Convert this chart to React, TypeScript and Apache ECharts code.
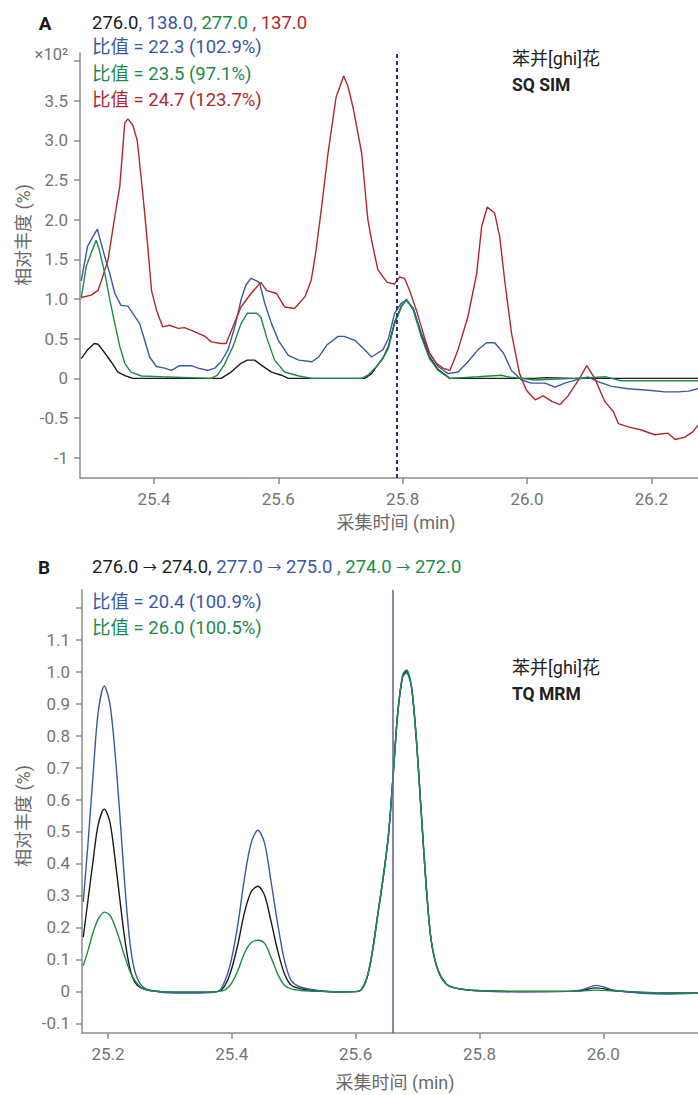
import React, { useEffect, useRef } from "react";
import * as echarts from "echarts";

const FONT = "Roboto, 'Noto Sans CJK SC', sans-serif";
const C_BLACK = "#1b1b1b";
const C_BLUE = "#3b57a7";
const C_GREEN = "#1d8a48";
const C_RED = "#b0272d";
const AX = "#8c8c8c";
const TICK = "#747474";

// ---------- Panel A (SQ SIM) ----------
const A_X_TICKS = [25.4, 25.6, 25.8, 26.0, 26.2];
const A_Y_TICKS = [-1, -0.5, 0, 0.5, 1.0, 1.5, 2.0, 2.5, 3.0, 3.5, 4.0];
const A_Y_LABELS = [-1, -0.5, 0, 0.5, 1.0, 1.5, 2.0, 2.5, 3.0, 3.5];
const A_MARK = 25.786;

const A_BLACK_T = [25.283, 25.293, 25.304, 25.31, 25.321, 25.331, 25.342, 25.355, 25.366, 25.508, 25.524, 25.54, 25.55, 25.562, 25.572, 25.589, 25.605, 25.616, 25.739, 25.75, 25.76, 25.768, 25.777, 25.787, 25.798, 25.806, 25.817, 25.83, 25.843, 25.857, 25.876, 26.013, 26.03, 26.077, 26.275];
const A_BLACK_V = [0.25, 0.36, 0.44, 0.43, 0.32, 0.21, 0.08, 0.03, 0.0, 0.0, 0.08, 0.19, 0.23, 0.23, 0.17, 0.08, 0.04, 0.0, 0.0, 0.06, 0.17, 0.25, 0.4, 0.71, 0.91, 0.99, 0.88, 0.55, 0.27, 0.11, 0.0, 0.0, 0.01, 0.0, 0.0];

const A_GREEN_T = [25.283, 25.291, 25.299, 25.307, 25.312, 25.321, 25.329, 25.337, 25.345, 25.353, 25.363, 25.38, 25.412, 25.492, 25.502, 25.513, 25.527, 25.54, 25.55, 25.565, 25.572, 25.581, 25.594, 25.61, 25.633, 25.654, 25.734, 25.744, 25.758, 25.768, 25.777, 25.787, 25.798, 25.806, 25.817, 25.83, 25.843, 25.857, 25.876, 25.921, 25.959, 25.969, 26.013, 26.077, 26.127, 26.151, 26.275];
const A_GREEN_V = [1.01, 1.41, 1.58, 1.74, 1.62, 1.32, 0.99, 0.69, 0.4, 0.19, 0.08, 0.03, 0.02, 0.0, 0.04, 0.17, 0.4, 0.69, 0.82, 0.82, 0.77, 0.52, 0.23, 0.08, 0.03, 0.0, 0.0, 0.04, 0.15, 0.25, 0.38, 0.69, 0.9, 1.0, 0.86, 0.52, 0.25, 0.1, 0.0, 0.02, 0.04, 0.02, -0.02, 0.0, 0.02, -0.03, -0.03];

const A_BLUE_T = [25.283, 25.293, 25.302, 25.309, 25.312, 25.321, 25.329, 25.337, 25.347, 25.358, 25.366, 25.377, 25.385, 25.393, 25.404, 25.417, 25.428, 25.441, 25.46, 25.471, 25.487, 25.498, 25.508, 25.519, 25.53, 25.54, 25.548, 25.556, 25.565, 25.57, 25.578, 25.589, 25.6, 25.616, 25.633, 25.654, 25.665, 25.678, 25.696, 25.706, 25.723, 25.739, 25.75, 25.76, 25.768, 25.777, 25.787, 25.798, 25.806, 25.817, 25.83, 25.843, 25.857, 25.873, 25.889, 25.905, 25.921, 25.935, 25.948, 25.962, 25.975, 25.991, 26.007, 26.029, 26.045, 26.061, 26.083, 26.098, 26.114, 26.136, 26.163, 26.195, 26.222, 26.243, 26.26, 26.275];
const A_BLUE_V = [1.23, 1.66, 1.79, 1.88, 1.79, 1.53, 1.32, 1.07, 0.92, 0.91, 0.82, 0.69, 0.48, 0.27, 0.15, 0.13, 0.1, 0.16, 0.16, 0.13, 0.1, 0.13, 0.21, 0.36, 0.65, 0.99, 1.18, 1.26, 1.23, 1.2, 0.95, 0.69, 0.48, 0.29, 0.23, 0.21, 0.27, 0.42, 0.53, 0.53, 0.48, 0.36, 0.27, 0.32, 0.36, 0.5, 0.82, 0.95, 0.98, 0.88, 0.57, 0.32, 0.15, 0.06, 0.08, 0.21, 0.36, 0.45, 0.45, 0.32, 0.1, -0.02, -0.06, -0.06, -0.11, -0.06, -0.01, 0.02, -0.04, -0.1, -0.13, -0.15, -0.17, -0.17, -0.16, -0.13];

const A_RED_T = [25.283, 25.299, 25.31, 25.315, 25.326, 25.337, 25.345, 25.353, 25.358, 25.366, 25.373, 25.382, 25.39, 25.396, 25.404, 25.414, 25.425, 25.439, 25.449, 25.465, 25.482, 25.492, 25.508, 25.516, 25.527, 25.54, 25.556, 25.572, 25.581, 25.597, 25.61, 25.626, 25.643, 25.653, 25.66, 25.669, 25.68, 25.693, 25.701, 25.705, 25.712, 25.72, 25.734, 25.744, 25.75, 25.76, 25.775, 25.787, 25.795, 25.803, 25.811, 25.822, 25.833, 25.843, 25.854, 25.865, 25.876, 25.889, 25.905, 25.919, 25.927, 25.936, 25.948, 25.956, 25.964, 25.975, 25.988, 25.999, 26.013, 26.026, 26.04, 26.053, 26.066, 26.083, 26.096, 26.109, 26.125, 26.139, 26.147, 26.163, 26.184, 26.205, 26.227, 26.238, 26.254, 26.267, 26.275];
const A_RED_V = [1.02, 1.05, 1.11, 1.22, 1.49, 2.04, 2.42, 3.22, 3.27, 3.19, 3.0, 2.33, 1.66, 1.11, 0.86, 0.65, 0.67, 0.63, 0.64, 0.59, 0.53, 0.46, 0.44, 0.44, 0.65, 0.9, 1.07, 1.21, 1.11, 1.07, 0.9, 0.88, 1.03, 1.24, 1.58, 2.12, 2.84, 3.55, 3.72, 3.81, 3.68, 3.42, 2.84, 2.0, 1.74, 1.37, 1.21, 1.19, 1.28, 1.26, 1.11, 0.86, 0.57, 0.32, 0.19, 0.13, 0.1, 0.36, 0.78, 1.32, 1.91, 2.16, 2.08, 1.79, 1.24, 0.57, 0.06, -0.15, -0.27, -0.22, -0.29, -0.33, -0.22, -0.02, 0.16, 0.0, -0.29, -0.42, -0.57, -0.61, -0.65, -0.71, -0.69, -0.77, -0.74, -0.67, -0.59];

// ---------- Panel B (TQ MRM) ----------
const B_X_TICKS = [25.2, 25.4, 25.6, 25.8, 26.0];
const B_Y_TICKS = [-0.1, 0, 0.1, 0.2, 0.3, 0.4, 0.5, 0.6, 0.7, 0.8, 0.9, 1.0, 1.1, 1.2];
const B_Y_LABELS = [-0.1, 0, 0.1, 0.2, 0.3, 0.4, 0.5, 0.6, 0.7, 0.8, 0.9, 1.0, 1.1];
const B_MARK = 25.66;

const B_T = [25.16, 25.168, 25.176, 25.184, 25.194, 25.203, 25.211, 25.219, 25.227, 25.235, 25.243, 25.254, 25.27, 25.308, 25.345, 25.378, 25.389, 25.399, 25.41, 25.42, 25.431, 25.442, 25.453, 25.463, 25.474, 25.485, 25.496, 25.512, 25.539, 25.571, 25.604, 25.62, 25.636, 25.652, 25.66, 25.668, 25.676, 25.682, 25.69, 25.698, 25.706, 25.714, 25.722, 25.733, 25.746, 25.76, 25.792, 25.868, 25.943, 25.965, 25.989, 26.019, 26.099, 26.153];
const B_BLUE = [0.28, 0.47, 0.68, 0.87, 0.955, 0.9, 0.755, 0.556, 0.337, 0.16, 0.066, 0.019, 0.003, -0.005, -0.005, 0.0, 0.034, 0.097, 0.212, 0.348, 0.463, 0.504, 0.463, 0.348, 0.212, 0.097, 0.034, 0.013, 0.003, -0.002, 0.0, 0.055, 0.243, 0.47, 0.661, 0.87, 0.984, 0.995, 0.953, 0.786, 0.556, 0.327, 0.16, 0.066, 0.024, 0.011, 0.003, -0.002, 0.0, 0.005, 0.019, 0.003, -0.008, -0.005];
const B_BLACK = [0.17, 0.29, 0.41, 0.52, 0.57, 0.53, 0.42, 0.29, 0.165, 0.075, 0.03, 0.01, 0.002, -0.003, -0.003, 0.0, 0.019, 0.066, 0.149, 0.243, 0.311, 0.329, 0.3, 0.222, 0.128, 0.055, 0.019, 0.008, 0.002, -0.001, 0.0, 0.055, 0.243, 0.47, 0.66, 0.87, 0.985, 1.0, 0.955, 0.79, 0.56, 0.33, 0.16, 0.066, 0.024, 0.011, 0.003, 0.0, 0.0, 0.003, 0.011, 0.002, -0.005, -0.004];
const B_GREEN = [0.08, 0.13, 0.185, 0.225, 0.248, 0.238, 0.205, 0.16, 0.11, 0.065, 0.035, 0.012, 0.002, -0.002, -0.002, 0.0, 0.005, 0.024, 0.066, 0.118, 0.152, 0.16, 0.15, 0.108, 0.055, 0.019, 0.008, 0.003, 0.0, -0.001, 0.0, 0.055, 0.243, 0.47, 0.66, 0.87, 0.99, 1.005, 0.955, 0.79, 0.56, 0.33, 0.16, 0.066, 0.024, 0.011, 0.003, 0.0, 0.0, 0.001, 0.004, 0.001, -0.004, -0.004];

const pairs = (t: number[], v: number[]) => t.map((x, i) => [x, v[i]]);
const fmt = (v: number) => (v === 0 ? "0" : v === -1 ? "-1" : v.toFixed(1));

function xAxisCfg(grid: number, min: number, max: number, ticks: number[]) {
  return {
    type: "value",
    gridIndex: grid,
    min,
    max,
    axisLine: { show: true, onZero: false, lineStyle: { color: AX, width: 1.5 } },
    axisTick: { show: true, length: 6, customValues: ticks, lineStyle: { color: AX, width: 1.5 } },
    axisLabel: { customValues: ticks, formatter: (v: number) => v.toFixed(1), color: TICK, fontSize: 17, margin: 12, fontFamily: FONT },
    splitLine: { show: false },
  };
}
function yAxisCfg(grid: number, min: number, max: number, ticks: number[], labels: number[]) {
  return {
    type: "value",
    gridIndex: grid,
    min,
    max,
    axisLine: { show: true, onZero: false, lineStyle: { color: AX, width: 1.5 } },
    axisTick: { show: true, length: 6, customValues: ticks, lineStyle: { color: AX, width: 1.5 } },
    axisLabel: { customValues: labels, formatter: fmt, color: TICK, fontSize: 17, margin: 12, fontFamily: FONT },
    splitLine: { show: false },
  };
}
function line(name: string, grid: number, data: number[][], color: string, smooth: boolean | number, extra: any = {}) {
  return {
    name,
    type: "line",
    xAxisIndex: grid,
    yAxisIndex: grid,
    data,
    showSymbol: false,
    symbol: "none",
    smooth,
    lineStyle: { color, width: 1.4 },
    itemStyle: { color },
    silent: true,
    ...extra,
  };
}

const HS = 18.5; // header font size
function txt(text: string, x: number, y: number, fill: string, size = HS, weight: any = "normal", align = "left") {
  return {
    type: "text",
    x,
    y,
    style: { text, fill, fontSize: size, fontWeight: weight, fontFamily: FONT, align, verticalAlign: "middle" },
  };
}
function richTxt(text: string, x: number, y: number) {
  const s = (fill: string, size = HS) => ({ fill, fontSize: size, fontFamily: FONT });
  return {
    type: "text",
    x,
    y,
    style: {
      text,
      fontSize: HS,
      fontFamily: FONT,
      align: "left",
      verticalAlign: "middle",
      rich: {
        k: s(C_BLACK), b: s(C_BLUE), g: s(C_GREEN), r: s(C_RED),
        ka: s(C_BLACK, 14), ba: s(C_BLUE, 14), ga: s(C_GREEN, 14),
      },
    },
  };
}
function yName(y: number) {
  return {
    type: "text", x: 23, y, rotation: Math.PI / 2,
    style: { text: "相对丰度 (%)", fill: "#6a6a6a", fontSize: 18, fontFamily: FONT, align: "center", verticalAlign: "middle" },
  };
}

export default function App() {
  const ref = useRef<HTMLDivElement>(null);
  useEffect(() => {
    if (!ref.current) return;
    const chart = echarts.init(ref.current, null, { renderer: "svg" });
    const option: any = {
      animation: false,
      backgroundColor: "#ffffff",
      textStyle: { fontFamily: FONT },
      grid: [
        { left: 80, top: 53, width: 618, height: 425 },
        { left: 82, top: 590, width: 616, height: 443 },
      ],
      xAxis: [xAxisCfg(0, 25.281, 26.275, A_X_TICKS), xAxisCfg(1, 25.158, 26.153, B_X_TICKS)],
      yAxis: [yAxisCfg(0, -1.255, 4.1, A_Y_TICKS, A_Y_LABELS), yAxisCfg(1, -0.13, 1.255, B_Y_TICKS, B_Y_LABELS)],
      series: [
        line("276.0", 0, pairs(A_BLACK_T, A_BLACK_V), C_BLACK, false, {
          markLine: {
            silent: true,
            symbol: ["none", "none"],
            label: { show: false },
            lineStyle: { type: [4, 3], color: "#2d2d82", width: 2 },
            data: [{ xAxis: A_MARK }],
          },
        }),
        line("138.0", 0, pairs(A_BLUE_T, A_BLUE_V), C_BLUE, false),
        line("137.0", 0, pairs(A_RED_T, A_RED_V), C_RED, false),
        line("277.0", 0, pairs(A_GREEN_T, A_GREEN_V), C_GREEN, false),
        line("276.0 → 274.0", 1, pairs(B_T, B_BLACK), C_BLACK, 0.3, {
          markLine: {
            silent: true,
            symbol: ["none", "none"],
            label: { show: false },
            lineStyle: { type: "solid", color: "#6767a8", width: 1.6 },
            data: [{ xAxis: B_MARK }],
          },
        }),
        line("277.0 → 275.0", 1, pairs(B_T, B_BLUE), C_BLUE, 0.3),
        line("274.0 → 272.0", 1, pairs(B_T, B_GREEN), C_GREEN, 0.3),
      ],
      graphic: [
        txt("A", 45, 23, "#1b1b1b", 19, "bold", "center"),
        richTxt("{k|276.0}{b|, 138.0,}{g| 277.0}{r| , 137.0}", 92, 23),
        txt("比值 = 22.3 (102.9%)", 92, 47, C_BLUE),
        txt("比值 = 23.5 (97.1%)", 92, 74, C_GREEN),
        txt("比值 = 24.7 (123.7%)", 92, 100, C_RED),
        txt("×10²", 68, 54, TICK, 16.5, "normal", "right"),
        txt("苯并[ghi]花", 512, 58, "#222222", 18),
        txt("SQ SIM", 512, 85, "#222222", 17.5, "bold"),
        yName(235),
        txt("采集时间 (min)", 396, 522, "#6a6a6a", 18, "normal", "center"),

        txt("B", 44, 567, "#1b1b1b", 19, "bold", "center"),
        richTxt("{k|276.0 }{ka|→}{k| 274.0,}{b| 277.0 }{ba|→}{b| 275.0}{g| , 274.0 }{ga|→}{g| 272.0}", 92, 567),
        txt("比值 = 20.4 (100.9%)", 92, 602, C_BLUE),
        txt("比值 = 26.0 (100.5%)", 92, 628, C_GREEN),
        txt("苯并[ghi]花", 512, 667, "#222222", 18),
        txt("TQ MRM", 512, 694, "#222222", 17.5, "bold"),
        yName(816),
        txt("采集时间 (min)", 395, 1082, "#6a6a6a", 18, "normal", "center"),
      ],
    };
    chart.setOption(option);
    return () => chart.dispose();
  }, []);
  return <div ref={ref} style={{ position: "fixed", left: 0, top: 0, width: 698, height: 1095 }} />;
}
